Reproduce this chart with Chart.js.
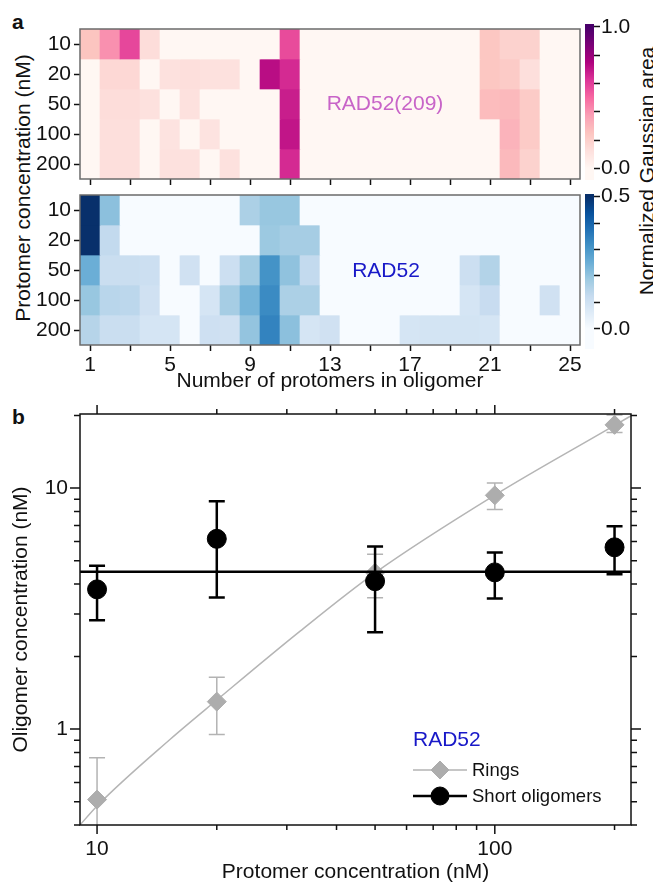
<!DOCTYPE html>
<html>
<head>
<meta charset="utf-8">
<script src="https://cdn.jsdelivr.net/npm/chart.js@4.4.1/dist/chart.umd.min.js"></script>
<style>
  body { margin: 0; background: #fff; }
  #page { position: relative; width: 653px; height: 882px; overflow: hidden;
          font-family: "Liberation Sans", Arial, Helvetica, sans-serif; color: #111; }
  canvas { position: absolute; }
  .txt { position: absolute; white-space: nowrap; font-size: 21px; line-height: 21px; }
  .rot { transform: translate(-50%, -50%) rotate(-90deg); }
</style>
</head>
<body>
<div id="page">
  <div class="txt" style="left:12px;top:11px;font-weight:bold">a</div>
  <div class="txt" style="left:12px;top:406px;font-weight:bold">b</div>
  <div class="txt rot" style="left:22px;top:188px">Protomer concentration (nM)</div>
  <div class="txt rot" style="left:646px;top:171px">Normalized Gaussian area</div>

  <canvas id="hmTop" width="590" height="167" style="left:0;top:20px"></canvas>
  <canvas id="hmBottom" width="590" height="211" style="left:0;top:186px"></canvas>
  <canvas id="cbTop" width="60" height="176" style="left:585px;top:14px"></canvas>
  <canvas id="cbBottom" width="60" height="175" style="left:585px;top:184px"></canvas>
  <canvas id="panelB" width="653" height="490" style="left:0;top:395px"></canvas>
</div>

<script>
// --- data: panel a (heatmaps) ---
const oligomerSize = Array.from({ length: 25 }, (_, i) => i + 1);
const concLabels = ['10', '20', '50', '100', '200'];
const tickCols = [1, 3, 5, 7, 9, 11, 13, 15, 17, 19, 21, 23, 25];
const labelCols = [1, 5, 9, 13, 17, 21, 25];

// RAD52(209), rows = 10, 20, 50, 100, 200 nM
const rad209 = [
  [0.25, 0.41, 0.58, 0.14, 0, 0, 0, 0, 0, 0, 0.57, 0, 0, 0, 0, 0, 0, 0, 0, 0, 0.24, 0.19, 0.19, 0, 0],
  [0, 0.16, 0.16, 0, 0.12, 0.13, 0.12, 0.12, 0, 0.72, 0.65, 0, 0, 0, 0, 0, 0, 0, 0, 0, 0.24, 0.22, 0.13, 0, 0],
  [0, 0.14, 0.14, 0.12, 0, 0.12, 0, 0, 0, 0, 0.68, 0, 0, 0, 0, 0, 0, 0, 0, 0, 0.28, 0.29, 0.22, 0, 0],
  [0, 0.13, 0.13, 0, 0.11, 0, 0.11, 0, 0, 0, 0.70, 0, 0, 0, 0, 0, 0, 0, 0, 0, 0, 0.31, 0.22, 0, 0],
  [0, 0.13, 0.13, 0, 0.12, 0.12, 0, 0.12, 0, 0, 0.65, 0, 0, 0, 0, 0, 0, 0, 0, 0, 0, 0.29, 0.19, 0, 0]
];
// RAD52
const rad52 = [
  [0.50, 0.21, 0, 0, 0, 0, 0, 0, 0.165, 0.195, 0.195, 0, 0, 0, 0, 0, 0, 0, 0, 0, 0, 0, 0, 0, 0],
  [0.50, 0.13, 0, 0, 0, 0, 0, 0, 0, 0.19, 0.175, 0.175, 0, 0, 0, 0, 0, 0, 0, 0, 0, 0, 0, 0, 0],
  [0.25, 0.115, 0.115, 0.11, 0, 0.10, 0, 0.11, 0.18, 0.31, 0.205, 0.13, 0, 0, 0, 0, 0, 0, 0, 0.11, 0.155, 0, 0, 0, 0],
  [0.195, 0.145, 0.14, 0.10, 0, 0, 0.085, 0.175, 0.235, 0.325, 0.165, 0.165, 0, 0, 0, 0, 0, 0, 0, 0.085, 0.12, 0, 0, 0.10, 0],
  [0.15, 0.115, 0.115, 0.085, 0.085, 0, 0.105, 0.10, 0.20, 0.34, 0.21, 0.085, 0.10, 0, 0, 0, 0.085, 0.09, 0.09, 0.09, 0.085, 0, 0, 0, 0]
];
const cbTopTicks = [0, 0.2, 0.4, 0.6, 0.8, 1.0];
const cbBottomTicks = [0, 0.1, 0.2, 0.3, 0.4, 0.5];

// --- data: panel b ---
const protomerConc = [10, 20, 50, 100, 200];
const ringsMean = [0.51, 1.30, 4.45, 9.33, 18.3];
const ringsLo = [0.26, 0.95, 3.51, 8.16, 17.0];
const ringsHi = [0.76, 1.64, 5.32, 10.5, 20.1];
const shortMean = [3.80, 6.16, 4.11, 4.47, 5.68];
const shortLo = [2.83, 3.52, 2.52, 3.48, 4.39];
const shortHi = [4.76, 8.83, 5.73, 5.41, 6.95];
const shortAvg = 4.5;
const fitX = [9.0, 10, 15.3, 20, 32.4, 50, 100, 200, 225];
const fitY = [0.395, 0.48, 0.91, 1.32, 2.55, 4.45, 9.35, 18.2, 20.4];
const xMajor = [10, 100];
const xMinor = [20, 30, 40, 50, 60, 70, 80, 90, 200];
const yMajor = [1, 10];
const yMinor = [0.4, 0.5, 0.6, 0.7, 0.8, 0.9, 2, 3, 4, 5, 6, 7, 8, 9, 20];

// --- colour maps ---
const RDPU = ['#fff7f3', '#fde0dd', '#fcc5c0', '#fa9fb5', '#f768a1', '#dd3497', '#ae017e', '#7a0177', '#49006a'];
const BLUES = ['#f7fbff', '#deebf7', '#c6dbef', '#9ecae1', '#6baed6', '#4292c6', '#2171b5', '#08519c', '#08306b'];

function hexToRgb(h) { return [1, 3, 5].map(i => parseInt(h.substr(i, 2), 16)); }
function cmap(stops, t) {
  t = Math.max(0, Math.min(1, t));
  const p = t * (stops.length - 1);
  const i = Math.min(Math.floor(p), stops.length - 2);
  const f = p - i;
  const a = hexToRgb(stops[i]), b = hexToRgb(stops[i + 1]);
  return 'rgb(' + a.map((v, k) => Math.round(v + (b[k] - v) * f)).join(',') + ')';
}

const FONT = '"Liberation Sans", Arial, Helvetica, sans-serif';
Chart.defaults.font.family = FONT;
Chart.defaults.font.size = 21;
Chart.defaults.color = '#111';

// fixed axis size, no extra label padding
function fixWidth(w) {
  return s => { s.width = w; s.paddingTop = 0; s.paddingBottom = 0; };
}
function fixHeight(h) {
  return s => { s.height = h; s.paddingLeft = 0; s.paddingRight = 0; };
}

// --- plugins ---
const framePlugin = {
  id: 'frame',
  afterDraw(chart, args, o) {
    const { ctx, chartArea: a } = chart;
    ctx.save();
    ctx.strokeStyle = o.color;
    ctx.lineWidth = o.width;
    ctx.strokeRect(a.left, a.top, a.width, a.height);
    ctx.restore();
  }
};

const notePlugin = {
  id: 'note',
  afterDatasetsDraw(chart, args, o) {
    if (!o.text) return;
    const { ctx, scales: { x, y } } = chart;
    ctx.save();
    ctx.font = '21px ' + FONT;
    ctx.fillStyle = o.color;
    ctx.textAlign = 'center';
    ctx.textBaseline = 'middle';
    ctx.fillText(o.text, x.getPixelForValue(o.x), y.getPixelForValue(o.y));
    ctx.restore();
  }
};

const colorbarPlugin = {
  id: 'colorbar',
  beforeDatasetsDraw(chart, args, o) {
    const { ctx, chartArea: a, scales: { y } } = chart;
    const g = ctx.createLinearGradient(0, y.getPixelForValue(0), 0, y.getPixelForValue(o.vmax));
    o.stops.forEach((c, i) => g.addColorStop(i / (o.stops.length - 1), c));
    ctx.save();
    ctx.fillStyle = g;
    ctx.fillRect(a.left, a.top, a.width, a.height);
    ctx.restore();
  }
};

// error bars drawn just before each dataset's own points
const errorBarPlugin = {
  id: 'errorBars',
  beforeDatasetDraw(chart, args) {
    const ds = chart.data.datasets[args.index];
    if (!ds.errLo) return;
    const { ctx, chartArea: a, scales: { x, y } } = chart;
    ctx.save();
    ctx.beginPath();
    ctx.rect(a.left, a.top, a.width, a.height);
    ctx.clip();
    ctx.strokeStyle = ds.errColor;
    ctx.lineWidth = ds.errWidth;
    ctx.beginPath();
    ds.data.forEach((p, i) => {
      const px = x.getPixelForValue(p.x);
      const lo = y.getPixelForValue(ds.errLo[i]);
      const hi = y.getPixelForValue(ds.errHi[i]);
      ctx.moveTo(px, lo); ctx.lineTo(px, hi);
      ctx.moveTo(px - 8, lo); ctx.lineTo(px + 8, lo);
      ctx.moveTo(px - 8, hi); ctx.lineTo(px + 8, hi);
    });
    ctx.stroke();
    ctx.restore();
  }
};

// frame + major/minor ticks on all four sides of panel b
const logFramePlugin = {
  id: 'logFrame',
  afterDraw(chart) {
    const { ctx, chartArea: a, scales: { x, y } } = chart;
    ctx.save();
    ctx.strokeStyle = '#111';
    ctx.lineWidth = 1.5;
    ctx.strokeRect(a.left, a.top, a.width, a.height);
    ctx.beginPath();
    const xt = (vals, len) => vals.forEach(v => {
      const px = x.getPixelForValue(v);
      ctx.moveTo(px, a.bottom); ctx.lineTo(px, a.bottom + len);
      ctx.moveTo(px, a.top); ctx.lineTo(px, a.top - len);
    });
    const yt = (vals, len) => vals.forEach(v => {
      const py = y.getPixelForValue(v);
      ctx.moveTo(a.left, py); ctx.lineTo(a.left - len, py);
      ctx.moveTo(a.right, py); ctx.lineTo(a.right + len, py);
    });
    xt(xMajor, 9); xt(xMinor, 5);
    yt(yMajor, 10); yt(yMinor, 6);
    ctx.stroke();
    ctx.restore();
  }
};

const legendPlugin = {
  id: 'insideLegend',
  afterDraw(chart, args, o) {
    const { ctx, chartArea: a } = chart;
    const left = a.left + 333;
    ctx.save();
    ctx.textBaseline = 'middle';
    ctx.textAlign = 'left';
    ctx.font = '21px ' + FONT;
    ctx.fillStyle = o.titleColor;
    ctx.fillText(o.title, left, a.bottom - 85);
    ctx.font = '18.5px ' + FONT;
    o.items.forEach((idx, k) => {
      const ds = chart.data.datasets[idx];
      const yy = a.bottom - 55 + k * 26;
      ctx.strokeStyle = ds.errColor;
      ctx.lineWidth = ds.errWidth;
      ctx.beginPath();
      ctx.moveTo(left, yy); ctx.lineTo(left + 54, yy);
      ctx.stroke();
      ctx.fillStyle = ds.backgroundColor;
      ctx.strokeStyle = ds.borderColor;
      ctx.lineWidth = 1;
      Chart.helpers.drawPoint(ctx, { pointStyle: ds.pointStyle, radius: ds.pointRadius - 0.5, rotation: 0, borderWidth: 1 }, left + 27, yy);
      ctx.fillStyle = '#111';
      ctx.fillText(ds.label, left + 59, yy + 1);
    });
    ctx.restore();
  }
};

// --- panel a ---
function heatmap(id, rows, stops, vmax, note, showLabels) {
  return new Chart(document.getElementById(id), {
    type: 'bar',
    data: {
      datasets: rows.map((vals, r) => ({
        data: vals.map((v, i) => ({ x: oligomerSize[i], y: [r - 0.5, r + 0.5] })),
        backgroundColor: vals.map(v => cmap(stops, v / vmax)),
        borderWidth: 0,
        grouped: false,
        barPercentage: 1,
        categoryPercentage: 1
      }))
    },
    options: {
      responsive: false, animation: false, devicePixelRatio: 1,
      layout: { padding: { top: 9, right: 10, left: 0, bottom: 0 } },
      plugins: {
        legend: { display: false }, tooltip: { enabled: false },
        frame: { color: '#6b6b6b', width: 1.5 },
        note: note
      },
      scales: {
        x: {
          type: 'linear', min: 0.5, max: 25.5, offset: false,
          grid: { display: true, drawOnChartArea: false, offset: false, tickLength: 6, tickColor: '#111', tickWidth: 1.5 },
          border: { display: false },
          afterBuildTicks: s => { s.ticks = tickCols.map(v => ({ value: v })); },
          ticks: { display: showLabels, autoSkip: false, maxRotation: 0, padding: 2,
                   callback: v => labelCols.includes(v) ? String(v) : '' },
          title: { display: showLabels, text: 'Number of protomers in oligomer', padding: { top: 0, bottom: 3 } },
          afterFit: fixHeight(showLabels ? 52 : 8)
        },
        y: {
          type: 'linear', min: -0.5, max: 4.5, reverse: true,
          grid: { display: true, drawOnChartArea: false, tickLength: 6, tickColor: '#111', tickWidth: 1.5 },
          border: { display: false },
          afterBuildTicks: s => { s.ticks = concLabels.map((_, i) => ({ value: i })); },
          ticks: { padding: 3, autoSkip: false, callback: v => concLabels[v] },
          afterFit: fixWidth(80)
        }
      }
    },
    plugins: [framePlugin, notePlugin]
  });
}

function colorbar(id, stops, vmin, vmax, ticks) {
  return new Chart(document.getElementById(id), {
    type: 'bar',
    data: { labels: [''], datasets: [] },
    options: {
      responsive: false, animation: false, devicePixelRatio: 1,
      layout: { padding: { top: 10, bottom: 10, left: 0, right: 0 } },
      plugins: { legend: { display: false }, tooltip: { enabled: false }, colorbar: { stops, vmax } },
      scales: {
        x: { display: false },
        y: {
          position: 'right', min: vmin, max: vmax + 0.02 * vmax,
          grid: { display: true, drawOnChartArea: false, tickLength: 6, tickColor: '#111', tickWidth: 1.5 },
          border: { display: false },
          afterBuildTicks: s => { s.ticks = ticks.map(v => ({ value: v })); },
          ticks: { padding: 1, autoSkip: false,
                   callback: v => (v === ticks[0] || v === ticks[ticks.length - 1]) ? v.toFixed(1) : '' },
          afterFit: fixWidth(51)
        }
      }
    },
    plugins: [colorbarPlugin]
  });
}

heatmap('hmTop', rad209, RDPU, 1.0, { text: 'RAD52(209)', x: 15.75, y: 2, color: '#c864c8' }, false);
heatmap('hmBottom', rad52, BLUES, 0.5, { text: 'RAD52', x: 15.8, y: 2.05, color: '#1818c8' }, true);
colorbar('cbTop', RDPU, -0.08, 1.0, cbTopTicks);
colorbar('cbBottom', BLUES, -0.076, 0.5, cbBottomTicks);

// --- panel b ---
const xLim = [9.06, 220];
new Chart(document.getElementById('panelB'), {
  type: 'scatter',
  data: {
    datasets: [
      {
        label: 'Short oligomers',
        data: protomerConc.map((x, i) => ({ x, y: shortMean[i] })),
        pointStyle: 'circle', pointRadius: 9.5,
        backgroundColor: '#000', borderColor: '#000', pointBorderWidth: 1,
        errLo: shortLo, errHi: shortHi, errColor: '#000', errWidth: 2.5
      },
      {
        label: 'mean',
        data: xLim.map(x => ({ x, y: shortAvg })),
        showLine: true, borderColor: '#000', borderWidth: 2.5, pointRadius: 0
      },
      {
        label: 'Rings',
        data: protomerConc.map((x, i) => ({ x, y: ringsMean[i] })),
        pointStyle: 'rectRot', pointRadius: 9.5,
        backgroundColor: '#adadad', borderColor: '#adadad', pointBorderWidth: 1,
        errLo: ringsLo, errHi: ringsHi, errColor: '#b3b3b3', errWidth: 1.5
      },
      {
        label: 'fit',
        data: fitX.map((x, i) => ({ x, y: fitY[i] })),
        showLine: true, borderColor: '#b5b5b5', borderWidth: 1.5, pointRadius: 0,
        cubicInterpolationMode: 'monotone'
      }
    ]
  },
  options: {
    responsive: false, animation: false, devicePixelRatio: 1,
    layout: { padding: { top: 19, right: 22, left: 0, bottom: 0 } },
    plugins: {
      legend: { display: false }, tooltip: { enabled: false },
      insideLegend: { title: 'RAD52', titleColor: '#1818c8', items: [2, 0] }
    },
    scales: {
      x: {
        type: 'logarithmic', min: xLim[0], max: xLim[1],
        grid: { display: false, drawTicks: false }, border: { display: false },
        afterBuildTicks: s => { s.ticks = xMajor.map(v => ({ value: v })); },
        ticks: { padding: 12, autoSkip: false, maxRotation: 0, callback: v => String(v) },
        title: { display: true, text: 'Protomer concentration (nM)', padding: { top: 0, bottom: 0 } },
        afterFit: fixHeight(60)
      },
      y: {
        type: 'logarithmic', min: 0.40, max: 20.3,
        grid: { display: false, drawTicks: false }, border: { display: false },
        afterBuildTicks: s => { s.ticks = yMajor.map(v => ({ value: v })); },
        ticks: { padding: 12, autoSkip: false, callback: v => String(v) },
        title: { display: true, text: 'Oligomer concentration (nM)', padding: { top: 9, bottom: 0 } },
        afterFit: fixWidth(80)
      }
    }
  },
  plugins: [errorBarPlugin, logFramePlugin, legendPlugin]
});
</script>
</body>
</html>
